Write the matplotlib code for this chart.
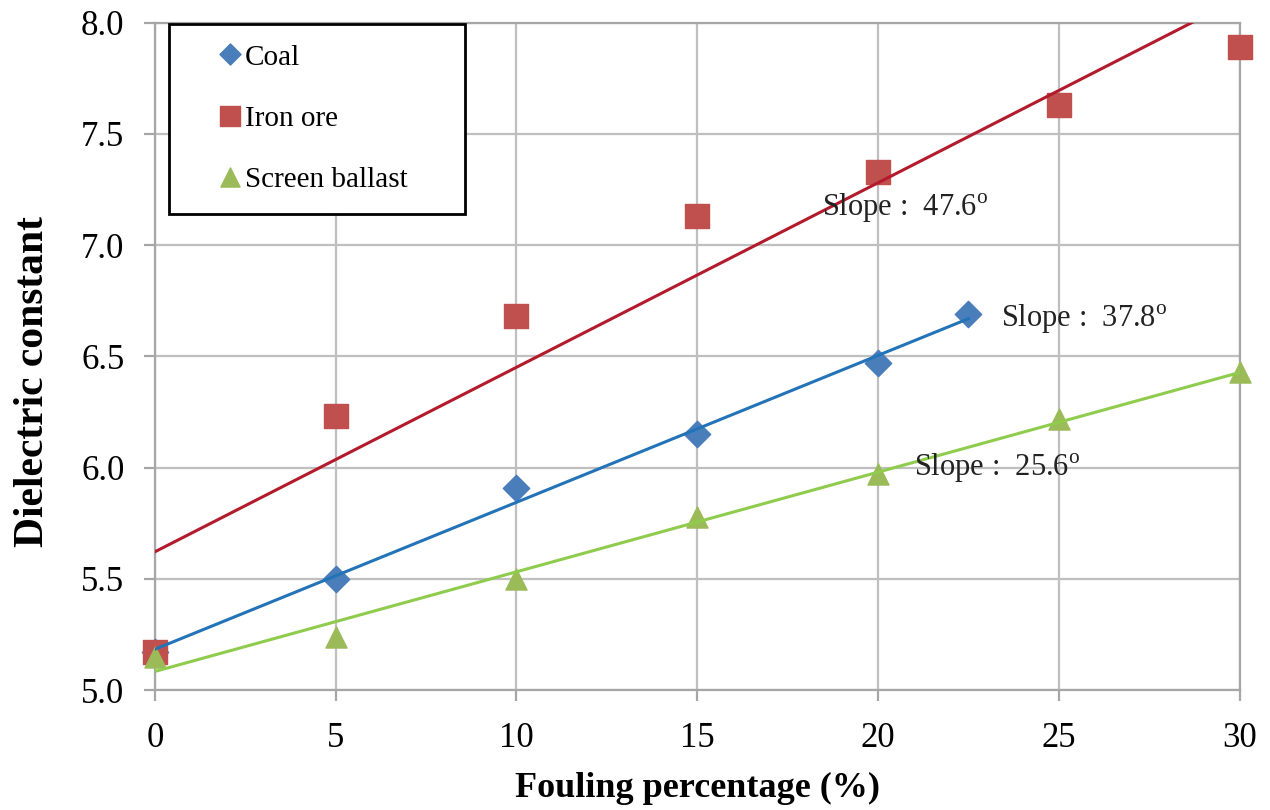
import numpy as np
import matplotlib
matplotlib.use('Agg')
import matplotlib.pyplot as plt

plt.rcParams['font.family'] = ['Liberation Serif', 'DejaVu Serif']
plt.rcParams['mathtext.fontset'] = 'stix'

## data
coal_x = [0, 5, 10, 15, 20, 22.5]
coal_y = [5.17, 5.50, 5.91, 6.15, 6.47, 6.69]

iron_x = [0, 5, 10, 15, 20, 25, 30]
iron_y = [5.17, 6.23, 6.68, 7.13, 7.33, 7.63, 7.89]

ball_x = [0, 5, 10, 15, 20, 25, 30]
ball_y = [5.15, 5.24, 5.50, 5.78, 5.97, 6.22, 6.43]

slope_txt = ['47.6', '37.8', '25.6']
slope_pos = [(18.45, 7.17), (23.4, 6.67), (21.0, 6.00)]

xticks = [0, 5, 10, 15, 20, 25, 30]
yticks = [5.0, 5.5, 6.0, 6.5, 7.0, 7.5, 8.0]

fig = plt.figure(figsize=(12.7, 8.1), dpi=100)
ax = fig.add_axes([0.122, 0.148, 0.854, 0.824])

## linear trendlines (drawn over the markers, like excel)
def trend(x, y, x0, x1):
    p = np.polyfit(x, y, 1)
    xx = np.array([x0, x1])
    return xx, np.polyval(p, xx)

tx, ty = trend(iron_x, iron_y, 0, 30)
ax.plot(tx, ty, color='#B31B2C', lw=2.2, zorder=6)
tx, ty = trend(coal_x, coal_y, 0, 22.5)
ax.plot(tx, ty, color='#2373B8', lw=2.2, zorder=6)
tx, ty = trend(ball_x, ball_y, 0, 30)
ax.plot(tx, ty, color='#8FCB4C', lw=2.2, zorder=6)

ax.scatter(coal_x, coal_y, marker='D', s=180, color='#4A7EBB', label='Coal', zorder=4, clip_on=False)
ax.scatter(iron_x, iron_y, marker='s', s=280, color='#C0504D', label='Iron ore', zorder=4.5, clip_on=False)
ax.scatter(ball_x, ball_y, marker='^', s=230, color='#9BBB59', label='Screen ballast', zorder=5, clip_on=False)

for t, (px, py) in zip(slope_txt, slope_pos):
    ax.text(px, py, 'Slope :  ' + t + r'$^\mathregular{o}$', fontsize=22,
            va='center', ha='left', color='#222222', zorder=7)

ax.set_xlim(0, 30)
ax.set_ylim(5.0, 8.0)
ax.set_xticks(xticks)
ax.set_yticks(yticks)
ax.set_yticklabels(['%.1f' % v for v in yticks])
ax.grid(True, color='#BFBFBF', lw=1.6, zorder=0)
ax.set_axisbelow(True)
for s in ax.spines.values():
    s.set_color('#A6A6A6')
    s.set_linewidth(1.6)
ax.tick_params(direction='out', length=8, width=1.6, color='#A6A6A6', labelsize=25)
ax.tick_params(axis='x', pad=15)
ax.tick_params(axis='y', pad=14)

ax.set_xlabel('Fouling percentage (%)', fontsize=26, fontweight='bold', va='center')
ax.xaxis.set_label_coords(0.5, -0.148)
ax.set_ylabel('Dielectric constant', fontsize=30, fontweight='bold', va='center')
ax.yaxis.set_label_coords(-0.112, 0.463)

leg = ax.legend(loc='upper left', bbox_to_anchor=(0.0129, 0.7151, 0.2728, 0.2834),
                mode='expand', fontsize=21, frameon=True, fancybox=False,
                edgecolor='black', framealpha=1, handletextpad=-0.87,
                labelspacing=1.2, borderpad=0.7, borderaxespad=0.0,
                handlelength=2.78, scatteryoffsets=[0.5])
leg.get_frame().set_linewidth(2)
for h, sz in zip(leg.legend_handles, [115, 207, 190]):
    h.set_sizes([sz])
leg.set_zorder(10)

fig.savefig('out.png', dpi=100)
